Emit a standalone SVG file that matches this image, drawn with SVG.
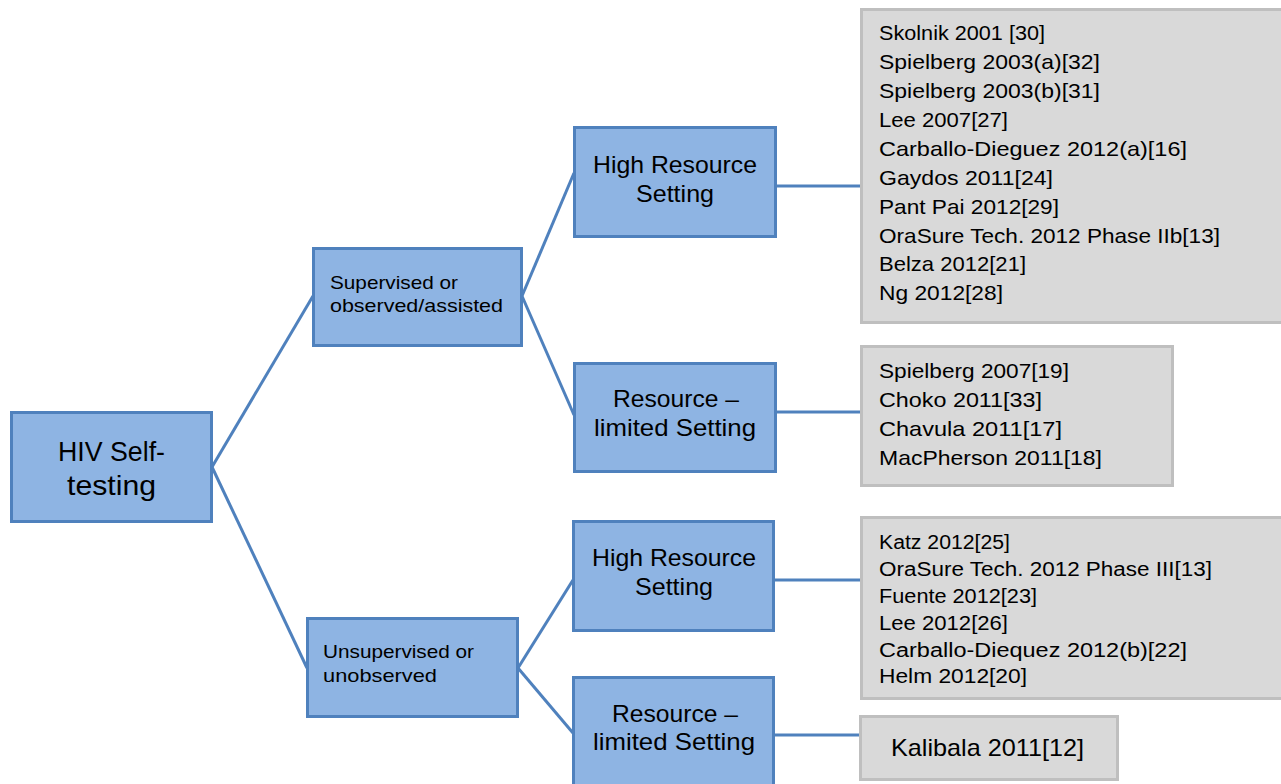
<svg xmlns="http://www.w3.org/2000/svg" width="1281" height="784" viewBox="0 0 1281 784">
<style>
.node{fill:#8EB4E3;stroke:#4F81BD;stroke-width:3}
.ref{fill:#D9D9D9;stroke:#BFBFBF;stroke-width:3}
.conn line{stroke:#4F81BD;stroke-width:3;fill:none}
text{font-family:"Liberation Sans",Arial,sans-serif;fill:#000}
.c{text-anchor:middle}
.big{font-size:24px}
.root{font-size:28px}
.mid{font-size:18.5px}
.r1{font-size:21px}
.r3{font-size:20px}
</style>
<rect width="1281" height="784" fill="#FFFFFF"/>
<g id="connectors" class="conn">
<line x1="212" y1="467" x2="313" y2="296"/>
<line x1="212" y1="467" x2="307" y2="668"/>
<line x1="522" y1="296" x2="574" y2="173"/>
<line x1="522" y1="296" x2="574" y2="415"/>
<line x1="518" y1="668" x2="573" y2="580"/>
<line x1="518" y1="668" x2="573" y2="733"/>
<line x1="775" y1="186" x2="861" y2="186"/>
<line x1="775" y1="412" x2="861" y2="412"/>
<line x1="773" y1="580" x2="861" y2="580"/>
<line x1="773" y1="735" x2="860" y2="735"/>
</g>
<g id="root">
<rect class="node" x="11.5" y="412.5" width="200" height="109"/>
<text class="root" x="58" y="461" textLength="107" lengthAdjust="spacingAndGlyphs">HIV Self-</text>
<text class="root" x="67" y="495" textLength="89" lengthAdjust="spacingAndGlyphs">testing</text>
</g>
<g id="supervised">
<rect class="node" x="313.5" y="248.5" width="208" height="97"/>
<text class="mid" x="330" y="289" textLength="128" lengthAdjust="spacingAndGlyphs">Supervised or</text>
<text class="mid" x="330" y="312" textLength="173" lengthAdjust="spacingAndGlyphs">observed/assisted</text>
</g>
<g id="unsupervised">
<rect class="node" x="307.5" y="618.5" width="210" height="98"/>
<text class="mid" x="323" y="658" textLength="151" lengthAdjust="spacingAndGlyphs">Unsupervised or</text>
<text class="mid" x="323" y="682" textLength="114" lengthAdjust="spacingAndGlyphs">unobserved</text>
</g>
<g id="high1">
<rect class="node" x="574.5" y="127.5" width="201" height="109"/>
<text class="big" x="593" y="173" textLength="164" lengthAdjust="spacingAndGlyphs">High Resource</text>
<text class="big" x="636" y="202" textLength="78" lengthAdjust="spacingAndGlyphs">Setting</text>
</g>
<g id="limited1">
<rect class="node" x="574.5" y="363.5" width="201" height="108"/>
<text class="big" x="613" y="407" textLength="126" lengthAdjust="spacingAndGlyphs">Resource –</text>
<text class="big" x="594" y="436" textLength="162" lengthAdjust="spacingAndGlyphs">limited Setting</text>
</g>
<g id="high2">
<rect class="node" x="573.5" y="521.5" width="200" height="109"/>
<text class="big" x="592" y="566" textLength="164" lengthAdjust="spacingAndGlyphs">High Resource</text>
<text class="big" x="635" y="595" textLength="78" lengthAdjust="spacingAndGlyphs">Setting</text>
</g>
<g id="limited2">
<rect class="node" x="573.5" y="677.5" width="200" height="120"/>
<text class="big" x="612" y="722" textLength="126" lengthAdjust="spacingAndGlyphs">Resource –</text>
<text class="big" x="593" y="750" textLength="162" lengthAdjust="spacingAndGlyphs">limited Setting</text>
</g>
<g id="refs-high-supervised">
<rect class="ref" x="861.5" y="9.5" width="430" height="313"/>
<text class="r1" x="879" y="40" textLength="166" lengthAdjust="spacingAndGlyphs">Skolnik 2001 [30]</text>
<text class="r1" x="879" y="69" textLength="221" lengthAdjust="spacingAndGlyphs">Spielberg 2003(a)[32]</text>
<text class="r1" x="879" y="98" textLength="221" lengthAdjust="spacingAndGlyphs">Spielberg 2003(b)[31]</text>
<text class="r1" x="879" y="127" textLength="129" lengthAdjust="spacingAndGlyphs">Lee 2007[27]</text>
<text class="r1" x="879" y="156" textLength="308" lengthAdjust="spacingAndGlyphs">Carballo-Dieguez 2012(a)[16]</text>
<text class="r1" x="879" y="185" textLength="174" lengthAdjust="spacingAndGlyphs">Gaydos 2011[24]</text>
<text class="r1" x="879" y="214" textLength="180" lengthAdjust="spacingAndGlyphs">Pant Pai 2012[29]</text>
<text class="r1" x="879" y="243" textLength="341" lengthAdjust="spacingAndGlyphs">OraSure Tech. 2012 Phase IIb[13]</text>
<text class="r1" x="879" y="271" textLength="147" lengthAdjust="spacingAndGlyphs">Belza 2012[21]</text>
<text class="r1" x="879" y="300" textLength="124" lengthAdjust="spacingAndGlyphs">Ng 2012[28]</text>
</g>
<g id="refs-limited-supervised">
<rect class="ref" x="861.5" y="346.5" width="311" height="139"/>
<text class="r1" x="879" y="378" textLength="190" lengthAdjust="spacingAndGlyphs">Spielberg 2007[19]</text>
<text class="r1" x="879" y="407" textLength="163" lengthAdjust="spacingAndGlyphs">Choko 2011[33]</text>
<text class="r1" x="879" y="436" textLength="183" lengthAdjust="spacingAndGlyphs">Chavula 2011[17]</text>
<text class="r1" x="879" y="465" textLength="223" lengthAdjust="spacingAndGlyphs">MacPherson 2011[18]</text>
</g>
<g id="refs-high-unsupervised">
<rect class="ref" x="861.5" y="517.5" width="430" height="181"/>
<text class="r3" x="879" y="549" textLength="131" lengthAdjust="spacingAndGlyphs">Katz 2012[25]</text>
<text class="r3" x="879" y="576" textLength="333" lengthAdjust="spacingAndGlyphs">OraSure Tech. 2012 Phase III[13]</text>
<text class="r3" x="879" y="603" textLength="158" lengthAdjust="spacingAndGlyphs">Fuente 2012[23]</text>
<text class="r3" x="879" y="630" textLength="129" lengthAdjust="spacingAndGlyphs">Lee 2012[26]</text>
<text class="r3" x="879" y="657" textLength="308" lengthAdjust="spacingAndGlyphs">Carballo-Diequez 2012(b)[22]</text>
<text class="r3" x="879" y="683" textLength="148" lengthAdjust="spacingAndGlyphs">Helm 2012[20]</text>
</g>
<g id="refs-limited-unsupervised">
<rect class="ref" x="860.5" y="716.5" width="257" height="63"/>
<text x="891" y="756" font-size="24" textLength="193" lengthAdjust="spacingAndGlyphs">Kalibala 2011[12]</text>
</g>
</svg>
